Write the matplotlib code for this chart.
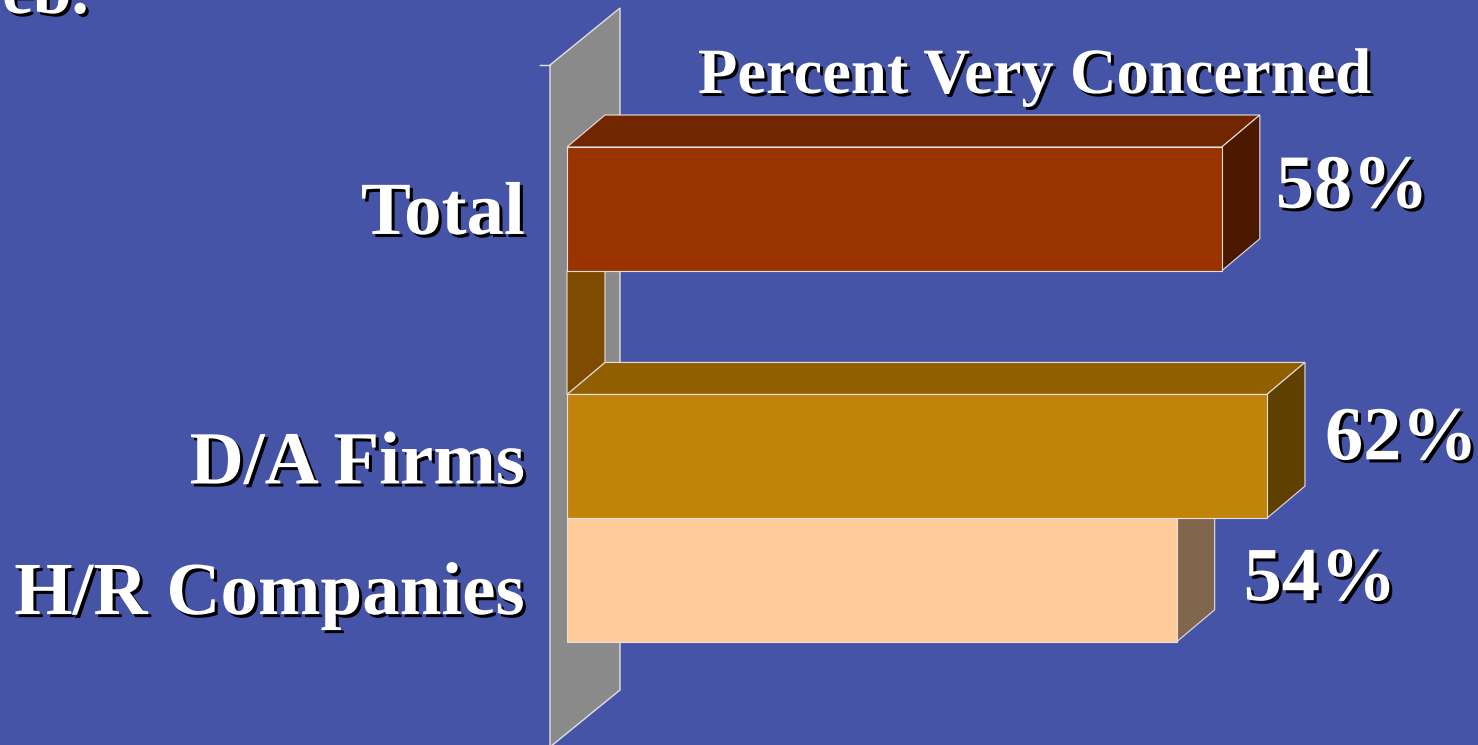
import matplotlib
matplotlib.use('Agg')
import matplotlib.pyplot as plt
import matplotlib.patheffects as pe
from matplotlib.patches import Polygon

# 数据
labels = ['Total', '', 'D/A Firms', 'H/R Companies']
values = [58, 0, 62, 54]
value_text = ['58%', '', '62%', '54%']
title = 'Percent Very Concerned'

# 颜色: 正面 / 顶面 / 侧面
front_c = ['#993300', '#7E4C00', '#C1830A', '#FFCC99']
top_c = ['#722600', '#7E4C00', '#906000', '#C09970']
side_c = ['#4C1900', '#7E4C00', '#604000', '#80664D']

bg = '#4654A8'
edge = '#E6E0E0'

W, H = 1478, 745
px_x = 11.29      # 每个百分点的像素
px_y = 123.7      # 每个槽位的像素
x0_px, y0_px = 567, 147

fig = plt.figure(figsize=(W / 100, H / 100), dpi=100)
fig.patch.set_facecolor(bg)
ax = fig.add_axes([0, 0, 1, 1])
ax.set_xlim(-x0_px / px_x, (W - x0_px) / px_x)
ax.set_ylim((H - y0_px) / px_y, -y0_px / px_y)
ax.axis('off')

# 3D 偏移(数据单位)
bdx, bdy = 38 / px_x, -32 / px_y
wdx, wdy = 70 / px_x, -57 / px_y
wx = -17 / px_x

# 侧墙
wall_top, wall_bot = -82 / px_y, 600 / px_y
ax.add_patch(Polygon([(wx, wall_top), (wx + wdx, wall_top + wdy),
                      (wx + wdx, wall_bot + wdy), (wx, wall_bot)],
                     closed=True, fc='#8A8A8A', ec=edge, lw=1.0, zorder=1))
ax.plot([wx - 10 / px_x, wx], [wall_top, wall_top], color=edge, lw=1.0, zorder=1)


def bar3d(i, v, z):
    y1, y2 = i, i + 1
    if v > 0:
        ax.add_patch(Polygon([(0, y1), (bdx, y1 + bdy), (v + bdx, y1 + bdy), (v, y1)],
                             closed=True, fc=top_c[i], ec=edge, lw=0.8, zorder=z))
    ax.add_patch(Polygon([(v, y1), (v + bdx, y1 + bdy), (v + bdx, y2 + bdy), (v, y2)],
                         closed=True, fc=side_c[i], ec=edge, lw=0.8, zorder=z))
    if v > 0:
        ax.add_patch(Polygon([(0, y1), (v, y1), (v, y2), (0, y2)],
                             closed=True, fc=front_c[i], ec=edge, lw=0.8, zorder=z))


# 从下往上画,上面的盖住下面
for i in range(len(values) - 1, -1, -1):
    bar3d(i, values[i], 5 + (len(values) - i))

shadow = [pe.SimplePatchShadow(offset=(2.2, -2.2), shadow_rgbFace='black', alpha=1.0),
          pe.Normal()]
font = dict(family='Liberation Serif', weight='bold', color='white')

# 类别标签(基线位置, 槽位内)
lab_base = [0.703, 0, 0.72, 0.776]
for i, lab in enumerate(labels):
    if lab:
        ax.text(-42 / px_x, i + lab_base[i], lab, ha='right', va='baseline',
                fontsize=54, path_effects=shadow, zorder=20, **font)

# 数值标签
val_base = [0.49, 0, 0.525, 0.663]
val_dx = [54, 0, 58, 67]
for i, t in enumerate(value_text):
    if t:
        ax.text(values[i] + val_dx[i] / px_x, i + val_base[i], t, ha='left', va='baseline',
                fontsize=55, path_effects=shadow, zorder=20, **font)

ax.text((1035 - x0_px) / px_x, (93 - y0_px) / px_y, title, ha='center', va='baseline',
        fontsize=46.5, path_effects=shadow, zorder=20, **font)

# 页面标题(上边被裁掉)
ax.text(-565 / px_x, (13 - y0_px) / px_y, 'eb.', ha='left', va='baseline',
        fontsize=50, path_effects=shadow, zorder=20, **font)

plt.savefig('out.png', dpi=100, facecolor=bg)
